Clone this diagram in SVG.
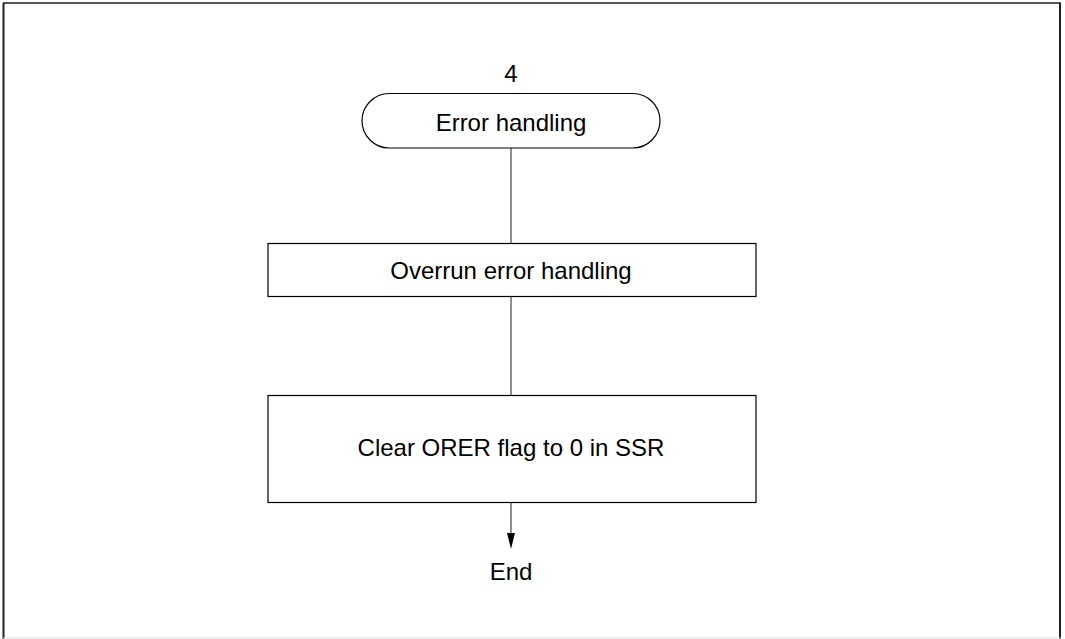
<svg xmlns="http://www.w3.org/2000/svg" width="1065" height="639" viewBox="0 0 1065 639">
<style>
.t{font-family:"Liberation Sans",Arial,sans-serif;font-size:24px;fill:#000;text-anchor:middle}
.n{fill:#fff;stroke:#000;stroke-width:1.2}
.c{stroke:#444;stroke-width:1.2;fill:none}
</style>
<rect width="1065" height="639" fill="#fff"/>
<g id="frame">
<line x1="3" y1="3" x2="1061" y2="3" stroke="#555" stroke-width="2"/>
<line x1="3.5" y1="3" x2="3.5" y2="639" stroke="#222" stroke-width="2"/>
<line x1="1060" y1="3" x2="1060" y2="639" stroke="#222" stroke-width="2"/>
<line x1="3" y1="638" x2="1061" y2="638" stroke="#ddd" stroke-width="1"/>
</g>
<g id="connectors">
<line class="c" x1="511" y1="148" x2="511" y2="243"/>
<line class="c" x1="511" y1="297" x2="511" y2="395"/>
<line class="c" x1="511" y1="502" x2="511" y2="534"/>
<polygon points="507,533 515,533 511,549" fill="#000"/>
</g>
<g id="label4"><text class="t" x="511" y="82">4</text></g>
<g id="start">
<rect class="n" x="362" y="93.5" width="298" height="54.5" rx="27.25"/>
<text class="t" x="511" y="131">Error handling</text>
</g>
<g id="overrun">
<rect class="n" x="268" y="243.5" width="488" height="53"/>
<text class="t" x="511" y="279">Overrun error handling</text>
</g>
<g id="clear">
<rect class="n" x="268" y="395.5" width="488" height="107"/>
<text class="t" x="511" y="456">Clear ORER flag to 0 in SSR</text>
</g>
<g id="end"><text class="t" x="511" y="580">End</text></g>
</svg>
